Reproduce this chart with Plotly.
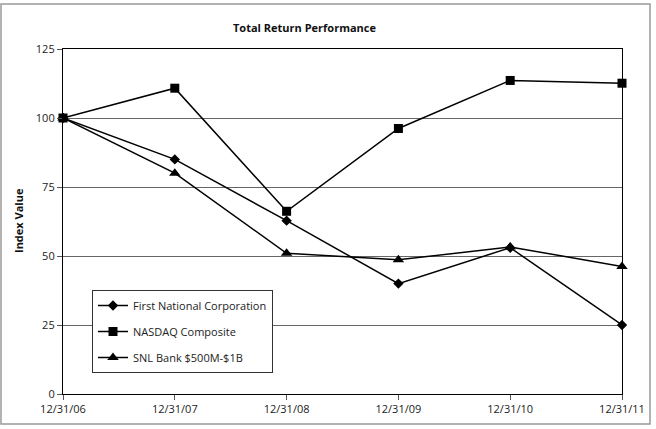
import plotly.graph_objects as go

dates = ["12/31/06", "12/31/07", "12/31/08", "12/31/09", "12/31/10", "12/31/11"]
first_national = [100, 85, 62.8, 40, 53, 25]
nasdaq = [100, 110.8, 66.2, 96.2, 113.6, 112.6]
snl_bank = [100, 80, 51, 48.6, 53.3, 46.2]
y_ticks = [0, 25, 50, 75, 100, 125]

W, H = 656, 429
L, R, T, B = 63, 622, 49, 394
pw, ph = R - L, B - T

def px(x):
    return (x - L) / pw

def py(y):
    return (B - y) / ph

font = "Open Sans, Noto Sans, sans-serif"

fig = go.Figure()
series = [
    ("First National Corporation", first_national, "diamond", 8),
    ("NASDAQ Composite", nasdaq, "square", 9),
    ("SNL Bank $500M-$1B", snl_bank, "triangle-up", 10),
]
for i, (name, vals, sym, sz) in enumerate(series):
    fig.add_trace(go.Scatter(
        x=dates, y=vals, name=name, mode="lines+markers",
        line=dict(color="black", width=1.5),
        marker=dict(symbol=sym, size=sz, color="black"),
        legendgroup=f"g{i}",
        cliponaxis=False,
    ))

fig.update_layout(
    width=W, height=H,
    margin=dict(l=L, r=W - R, t=T, b=H - B),
    paper_bgcolor="white", plot_bgcolor="white",
    font=dict(family=font, size=11, color="#222"),
    showlegend=True,
    legend=dict(
        x=px(92), y=py(290), xanchor="left", yanchor="top",
        bordercolor="#333", borderwidth=1, bgcolor="white",
        font=dict(size=11, family=font, color="#222"),
        tracegroupgap=7,
    ),
    xaxis=dict(
        type="category", range=[0, 5], showgrid=False,
        ticks="outside", ticklen=5, tickcolor="#555",
        showline=True, linecolor="black", linewidth=1.2, mirror=True,
        tickfont=dict(size=11), zeroline=False,
    ),
    yaxis=dict(
        range=[0, 125], tickvals=y_ticks, showgrid=True,
        gridcolor="#666", gridwidth=1,
        ticks="outside", ticklen=5, tickcolor="#555",
        showline=True, linecolor="black", linewidth=1.2, mirror=True,
        tickfont=dict(size=11), zeroline=False,
    ),
    annotations=[
        dict(text="<b>Total Return Performance</b>", x=px(304), y=py(27),
             xref="paper", yref="paper", showarrow=False,
             xanchor="center", yanchor="middle",
             font=dict(size=11, family=font, color="#111")),
        dict(text="<b>Index Value</b>", x=px(18), y=py(221),
             xref="paper", yref="paper", showarrow=False, textangle=-90,
             xanchor="center", yanchor="middle",
             font=dict(size=11, family=font, color="#111")),
    ],
    shapes=[
        dict(type="rect", xref="paper", yref="paper",
             x0=px(1), x1=px(650), y0=py(424), y1=py(4),
             line=dict(color="#999", width=1.5), layer="below"),
    ],
)

fig.write_html("out.html", config={"displayModeBar": False},
               post_script="document.body.style.margin='0';document.body.style.padding='0';")
